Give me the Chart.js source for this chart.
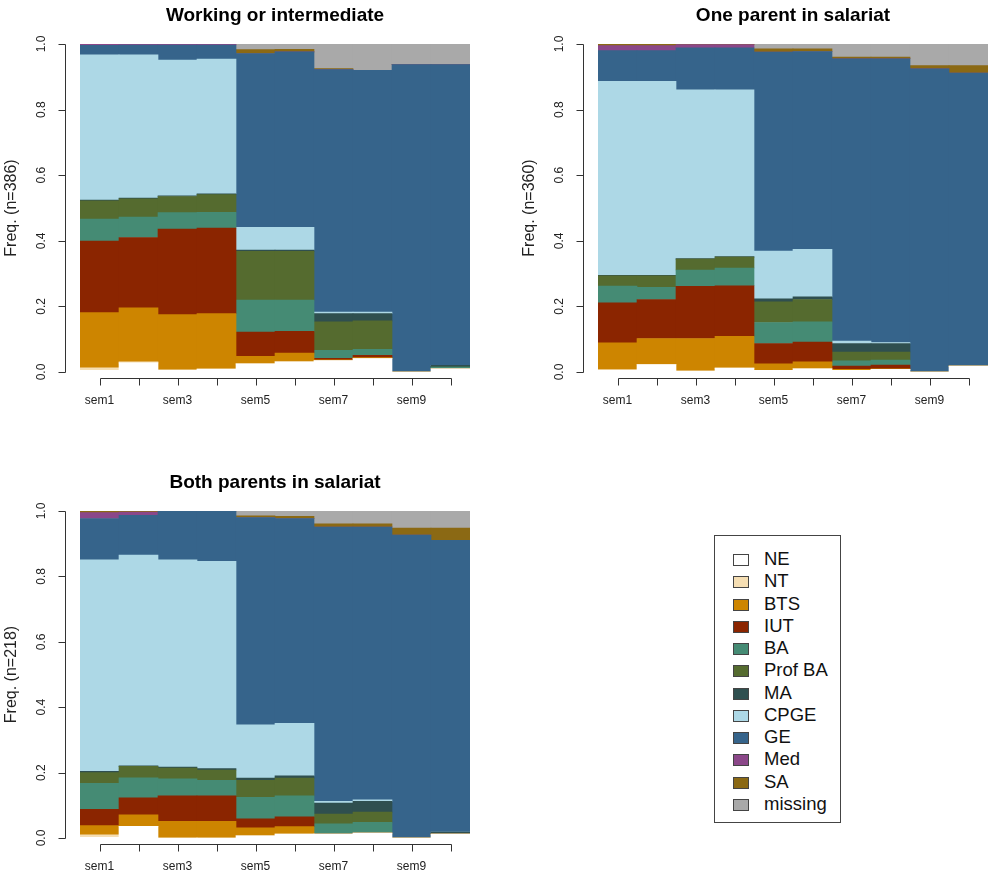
<!DOCTYPE html>
<html>
<head>
<meta charset="utf-8">
<script src="https://cdn.jsdelivr.net/npm/chart.js@4/dist/chart.umd.min.js"></script>
<style>
  html, body { margin: 0; padding: 0; background: #fff; }
  body { width: 989px; height: 877px; position: relative; overflow: hidden; font-family: "Liberation Sans", Arial, sans-serif; }
  canvas { position: absolute; }
  #legend { position: absolute; left: 714px; top: 535px; width: 127px; height: 288px; border: 1px solid #444; box-sizing: border-box; }
  .item { position: absolute; left: 0; height: 22px; line-height: 22px; font-size: 18.5px; color: #111; }
  .sw { position: absolute; left: 18px; top: 6px; width: 14px; height: 10px; border: 1px solid #444; }
  .lab { position: absolute; left: 49px; top: 0; white-space: nowrap; }
</style>
</head>
<body>
<canvas id="c1" width="494" height="438" style="left:0;top:0;width:494px;height:438px"></canvas>
<canvas id="c2" width="471" height="438" style="left:518px;top:0;width:471px;height:438px"></canvas>
<canvas id="c3" width="494" height="439" style="left:0;top:438px;width:494px;height:439px"></canvas>
<div id="legend"></div>
<script>
// Semesters and states
const semesters = ['sem1','sem2','sem3','sem4','sem5','sem6','sem7','sem8','sem9','sem10'];
const states = ['NE','NT','BTS','IUT','BA','Prof BA','MA','CPGE','GE','Med','SA','missing'];
const stateColors = ['#FFFFFF','#F5DEB3','#CD8500','#8B2500','#458B74','#556B2F','#2F4F4F','#ADD8E6','#36648B','#8B4789','#8B6914','#A9A9A9'];
const yTicks = [0, 0.2, 0.4, 0.6, 0.8, 1.0];

// State shares per semester, one row per state (order of `states`)
const workingShares = [
  [.005,.028,.006,.009,.025,.031,.035,.041,0,.010],   // NE
  [.008,.003,0,0,0,0,0,0,0,0],                        // NT
  [.168,.165,.169,.169,.023,.027,.002,.003,0,0],      // BTS
  [.218,.214,.261,.261,.074,.066,.005,.007,0,0],      // IUT
  [.067,.062,.050,.048,.097,.095,.024,.018,0,.005],   // BA
  [.056,.056,.049,.054,.149,.149,.087,.087,0,0],      // Prof BA
  [.002,.002,.002,.002,.004,.004,.025,.022,0,.005],   // MA
  [.443,.437,.414,.411,.069,.069,.005,.005,0,0],      // CPGE
  [.029,.030,.046,.043,.530,.535,.739,.737,.937,.917],// GE
  [.004,.003,.003,.003,0,0,0,0,0,0],                  // Med
  [0,0,0,0,.012,.008,.003,0,0,0],                     // SA
  [0,0,0,0,.017,.016,.075,.080,.063,.063]             // missing
];
const oneParentShares = [
  [.005,.023,.003,.012,.005,.010,.005,.008,0,.018],   // NE
  [.002,0,0,0,0,0,0,0,0,0],                           // NT
  [.082,.079,.099,.097,.020,.021,.003,.002,0,0],      // BTS
  [.122,.119,.159,.154,.062,.060,.010,.011,0,0],      // IUT
  [.051,.037,.050,.054,.064,.062,.016,.015,0,0],      // BA
  [.031,.035,.033,.033,.063,.068,.027,.025,0,0],      // Prof BA
  [.002,.002,.002,.002,.009,.008,.026,.026,0,0],      // MA
  [.591,.591,.514,.508,.146,.145,.007,.003,0,0],      // CPGE
  [.094,.094,.128,.128,.606,.603,.861,.865,.924,.893],// GE
  [.015,.015,.010,.010,0,0,0,0,0,0],                  // Med
  [.005,.005,.002,.002,.010,.008,.005,.005,.010,.023],// SA
  [0,0,0,0,.015,.015,.040,.040,.066,.066]             // missing
];
const bothParentsShares = [
  [.002,.036,0,0,.007,.012,.012,.015,0,.012],         // NE
  [.008,0,0,0,0,0,0,0,0,0],                           // NT
  [.028,.035,.051,.051,.024,.023,0,0,0,0],            // BTS
  [.050,.052,.078,.078,.028,.030,0,0,0,0],            // IUT
  [.079,.061,.052,.047,.065,.064,.031,.033,0,0],      // BA
  [.033,.035,.033,.032,.052,.054,.030,.031,0,0],      // Prof BA
  [.004,.002,.003,.004,.007,.007,.034,.033,0,.006],   // MA
  [.647,.644,.634,.634,.163,.161,.005,.005,0,0],      // CPGE
  [.126,.122,.149,.154,.634,.626,.839,.834,.926,.892],// GE
  [.018,.010,0,0,0,0,0,0,0,0],                        // Med
  [.005,.003,0,0,.005,.007,.010,.010,.022,.038],      // SA
  [0,0,0,0,.015,.016,.039,.039,.052,.052]             // missing
];

const FONT = '"Liberation Sans", Arial, sans-serif';

// R-style detached axes drawn from the chart's own scales
const rAxes = {
  id: 'rAxes',
  afterDraw(chart, args, opts) {
    const { ctx, chartArea: a, scales: { x, y } } = chart;
    ctx.save();
    ctx.strokeStyle = '#333';
    ctx.fillStyle = '#222';
    ctx.lineWidth = 1;
    ctx.beginPath();
    const ax = Math.round(a.left - 15) + 0.5;
    ctx.moveTo(ax, Math.round(y.getPixelForValue(0)) + 0.5);
    ctx.lineTo(ax, Math.round(y.getPixelForValue(1)) + 0.5);
    yTicks.forEach(v => {
      const py = Math.round(y.getPixelForValue(v)) + 0.5;
      ctx.moveTo(ax, py); ctx.lineTo(ax - 7, py);
    });
    const bx = Math.round(a.bottom + 6) + 0.5;
    ctx.moveTo(Math.round(x.getPixelForValue(0)) + 0.5, bx);
    ctx.lineTo(Math.round(x.getPixelForValue(semesters.length - 1)) + 0.5, bx);
    semesters.forEach((s, i) => {
      const px = Math.round(x.getPixelForValue(i)) + 0.5;
      ctx.moveTo(px, bx); ctx.lineTo(px, bx + 7);
    });
    ctx.stroke();

    ctx.textAlign = 'center';
    ctx.textBaseline = 'middle';
    ctx.font = '12px ' + FONT;
    yTicks.forEach(v => {
      ctx.save();
      ctx.translate(a.left - 38, y.getPixelForValue(v));
      ctx.rotate(-Math.PI / 2);
      ctx.fillText(v.toFixed(1), 0, 0);
      ctx.restore();
    });
    semesters.forEach((s, i) => {
      if (i % 2 === 0) ctx.fillText(s, x.getPixelForValue(i), a.bottom + 29);
    });

    ctx.font = '16px ' + FONT;
    ctx.save();
    ctx.translate(a.left - 68, (a.top + a.bottom) / 2);
    ctx.rotate(-Math.PI / 2);
    ctx.fillText(opts.ylab, 0, 0);
    ctx.restore();

    ctx.fillStyle = '#000';
    ctx.font = 'bold 19px ' + FONT;
    ctx.fillText(opts.title, (a.left + a.right) / 2, a.top - 28);
    ctx.restore();
  }
};

function panel(id, shares, title, ylab, pad) {
  new Chart(document.getElementById(id), {
    type: 'bar',
    data: {
      labels: semesters,
      datasets: states.map((s, k) => ({
        label: s,
        data: shares[k],
        backgroundColor: stateColors[k],
        borderWidth: 0,
        categoryPercentage: 1,
        barPercentage: 1
      }))
    },
    options: {
      responsive: false,
      animation: false,
      devicePixelRatio: 1,
      layout: { padding: pad },
      scales: {
        x: { stacked: true, display: false },
        y: { stacked: true, display: false, min: 0, max: 1 }
      },
      plugins: {
        legend: { display: false },
        tooltip: { enabled: false },
        rAxes: { title: title, ylab: ylab }
      }
    },
    plugins: [rAxes]
  });
}

panel('c1', workingShares, 'Working or intermediate', 'Freq. (n=386)', { left: 80, right: 24, top: 44, bottom: 66 });
panel('c2', oneParentShares, 'One parent in salariat', 'Freq. (n=360)', { left: 80, right: 1, top: 44, bottom: 66 });
panel('c3', bothParentsShares, 'Both parents in salariat', 'Freq. (n=218)', { left: 80, right: 24, top: 73, bottom: 39 });

// Legend
const legend = document.getElementById('legend');
states.forEach((s, k) => {
  const item = document.createElement('div');
  item.className = 'item';
  item.style.top = (12 + k * 22.27) + 'px';
  const sw = document.createElement('span');
  sw.className = 'sw';
  sw.style.background = stateColors[k];
  const lab = document.createElement('span');
  lab.className = 'lab';
  lab.textContent = s;
  item.appendChild(sw); item.appendChild(lab);
  legend.appendChild(item);
});
</script>
</body>
</html>
